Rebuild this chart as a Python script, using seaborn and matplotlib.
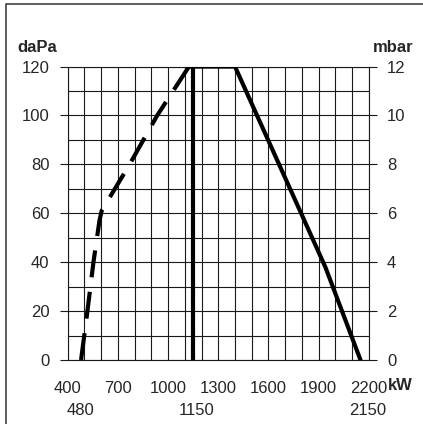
import numpy as np
import pandas as pd
import matplotlib
matplotlib.use('Agg')
import matplotlib.pyplot as plt
from matplotlib.patches import Rectangle
import seaborn as sns

# ── Data ──────────────────────────────────────────────
# left boundary (dashed), kW vs daPa
dash_kw   = [480, 518, 554, 590, 603, 770, 935, 1125]
dash_dapa = [0,   20,  40,  57,  61,  80,  100, 120]
# right boundary (solid), kW vs daPa
solid_kw   = [1125, 1400, 1940, 2150]
solid_dapa = [120,  120,  38,   0]
# vertical limit line
vline_kw   = [1150, 1150]
vline_dapa = [0,    120]

x_ticks      = [400, 700, 1000, 1300, 1600, 1900, 2200]
y_ticks      = [0, 20, 40, 60, 80, 100, 120]
mbar_ticks   = [0, 2, 4, 6, 8, 10, 12]
extra_labels = [480, 1150, 2150]

# ── Style ─────────────────────────────────────────────
sns.set_style('white')
plt.rcParams['font.family'] = ['Liberation Sans', 'DejaVu Sans']

fig = plt.figure(figsize=(4.23, 4.24), dpi=100)
ax = fig.add_axes([0.160, 0.151, 0.712, 0.692])

ax.set_xlim(400, 2200)
ax.set_ylim(0, 120)

# grid
ax.set_xticks(x_ticks)
ax.set_yticks(y_ticks)
ax.set_xticks(np.arange(400, 2201, 100), minor=True)
ax.set_yticks(np.arange(0, 121, 10), minor=True)
ax.grid(which='both', color='#1a1a1a', lw=0.8)
ax.tick_params(which='minor', length=0)
for s in ax.spines.values():
    s.set_color('#1a1a1a')
    s.set_linewidth(0.8)

# curves
df_dash = pd.DataFrame({'kW': dash_kw, 'daPa': dash_dapa})
df_solid = pd.DataFrame({'kW': solid_kw, 'daPa': solid_dapa})
df_v = pd.DataFrame({'kW': vline_kw, 'daPa': vline_dapa})
sns.lineplot(data=df_dash, x='kW', y='daPa', sort=False, estimator=None, ax=ax,
             color='black', lw=3, zorder=5)
ax.lines[-1].set_dashes((6.5, 3.5))
sns.lineplot(data=df_solid, x='kW', y='daPa', sort=False, estimator=None, ax=ax,
             color='black', lw=3, zorder=5)
sns.lineplot(data=df_v, x='kW', y='daPa', sort=False, estimator=None, ax=ax,
             color='black', lw=3, zorder=5)
ax.set_xlabel('')
ax.set_ylabel('')

ax.tick_params(which='major', length=6, width=0.8, color='#1a1a1a',
               labelsize=12, pad=7)
ax.tick_params(axis='x', which='major', pad=9)

ax2 = ax.twinx()
ax2.set_ylim(0, 12)
ax2.set_yticks(mbar_ticks)
ax2.tick_params(length=6, width=0.8, color='#1a1a1a', labelsize=12, pad=7)
for s in ax2.spines.values():
    s.set_visible(False)
ax2.grid(False)

# units
fig.text(17 / 423, 1 - 48 / 424, 'daPa', fontsize=12, fontweight='bold',
         ha='left', va='center')
fig.text(413 / 423, 1 - 48 / 424, 'mbar', fontsize=12, fontweight='bold',
         ha='right', va='center')
fig.text(388 / 423, 1 - 385 / 424, 'kW', fontsize=12, fontweight='bold',
         ha='left', va='center')

# second row of labels
offsets = [-1, 3, 7.5]
for v, off in zip(extra_labels, offsets):
    ax.annotate(str(v), xy=(v, 0), xycoords='data', xytext=(off * 0.72, -51 * 0.72),
                textcoords='offset points', ha='center', va='center', fontsize=12)

# figure frame (left and top edges visible)
fig.patches.append(Rectangle((6 / 423, -0.05), 1.1, 1 - 4 / 424 + 0.05,
                             transform=fig.transFigure, fill=False,
                             edgecolor='#333333', lw=1.1))

fig.savefig('out.png', dpi=100)
